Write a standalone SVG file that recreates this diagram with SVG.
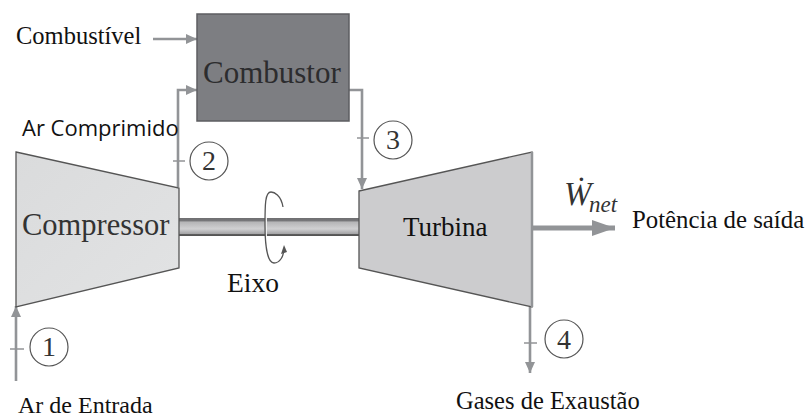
<svg xmlns="http://www.w3.org/2000/svg" width="808" height="419" viewBox="0 0 808 419">
<style>
.s{font-family:"Liberation Serif","Times New Roman",serif;fill:#111}
.o{font-family:"Open Sans","Noto Sans",Arial,sans-serif;fill:#111}
.n{font-family:"Liberation Serif","Times New Roman",serif;font-size:28px;fill:#333;text-anchor:middle}
.c{fill:#fff;stroke:#555;stroke-width:1.2}
.p{fill:none;stroke:#929497;stroke-width:2.600}
.t{fill:none;stroke:#929497;stroke-width:1.600}
</style>
<defs>
<linearGradient id="shaft" x1="0" y1="0" x2="0" y2="1">
<stop offset="0" stop-color="#6f6f71"/><stop offset=".16" stop-color="#77777a"/><stop offset=".22" stop-color="#b4b4b6"/><stop offset=".6" stop-color="#d0d0d2"/><stop offset=".88" stop-color="#a4a4a6"/><stop offset=".92" stop-color="#555"/><stop offset="1" stop-color="#555"/>
</linearGradient>
<linearGradient id="comp" x1="0" y1="0" x2="1" y2="1"><stop offset="0" stop-color="#dadbdc"/><stop offset="1" stop-color="#e2e3e4"/></linearGradient>
<marker id="a" markerUnits="userSpaceOnUse" markerWidth="12" markerHeight="12" refX="11" refY="6" orient="auto"><path d="M0 1L11 6L0 11z" fill="#929497"/></marker>
<marker id="A" markerUnits="userSpaceOnUse" markerWidth="24" markerHeight="18" refX="23" refY="9" orient="auto"><path d="M0 1L23 9L0 17z" fill="#929497"/></marker>
</defs>
<g id="connectors">
<path class="p" d="M153 39H197" marker-end="url(#a)"/>
<path class="p" d="M178 187V90H197" marker-end="url(#a)"/>
<path class="p" d="M348 90H362V189" marker-end="url(#a)"/>
<path class="p" d="M16 381V306" marker-end="url(#a)"/>
<path class="p" d="M530 307V373" marker-end="url(#a)"/>
<path d="M533 228H615" fill="none" stroke="#929497" stroke-width="5" marker-end="url(#A)"/>
<path class="t" d="M173 161H185M357 138H369M10 349H24M524 343H537"/>
</g>
<g id="shaft-group">
<rect x="179" y="218" width="180" height="18" fill="url(#shaft)"/>
<path d="M266 218V236" stroke="#eee" stroke-width="2"/>
<path d="M283 207C281 195 274 192 271 192C265 192 265 205 265 225C265 248 268 263 274 263C280 263 284 256 284 248" fill="none" stroke="#555" stroke-width="1.300"/>
<path d="M284 245L281 254L287 252z" fill="#555"/>
<text class="s" x="227" y="292" font-size="27.500">Eixo</text>
</g>
<g id="compressor">
<path d="M16 152L179 188V268L16 307z" fill="url(#comp)" stroke="#555" stroke-width="1.300"/>
<text class="s" x="22" y="235" font-size="30.500" style="fill:#333">Compressor</text>
</g>
<g id="combustor">
<rect x="197" y="14" width="152" height="107" fill="#7d7e82" stroke="#5d5e61" stroke-width="1.500"/>
<text class="s" x="203" y="83" font-size="31" style="fill:#2c2c2e">Combustor</text>
</g>
<g id="turbine">
<path d="M359 191L532 152V307L359 268z" fill="#ccccce" stroke="#555" stroke-width="1.300"/>
<path d="M532 152V307" stroke="#929497" stroke-width="2.500"/>
<text class="s" x="403" y="236" font-size="27">Turbina</text>
</g>
<g id="state-1"><circle class="c" cx="49" cy="347" r="19"/><text class="n" x="49" y="356">1</text></g>
<g id="state-2"><circle class="c" cx="209" cy="161" r="19"/><text class="n" x="209" y="170">2</text></g>
<g id="state-3"><circle class="c" cx="393" cy="140" r="19"/><text class="n" x="393" y="149">3</text></g>
<g id="state-4"><circle class="c" cx="564" cy="339" r="19"/><text class="n" x="564" y="349">4</text></g>
<g id="labels">
<text class="s" x="16" y="44" font-size="24.500">Combustível</text>
<text class="o" x="22" y="136" font-size="22">Ar Comprimido</text>
<text class="s" x="18" y="413" font-size="24">Ar de Entrada</text>
<text class="s" x="456" y="409" font-size="24.500">Gases de Exaustão</text>
<text class="s" x="632" y="228" font-size="24.800">Potência de saída</text>
<text class="s" x="564" y="205" font-size="33" font-style="italic" style="fill:#333">Ẇ</text>
<text class="s" x="589" y="212" font-size="23" font-style="italic" style="fill:#333">net</text>
</g>
</svg>
